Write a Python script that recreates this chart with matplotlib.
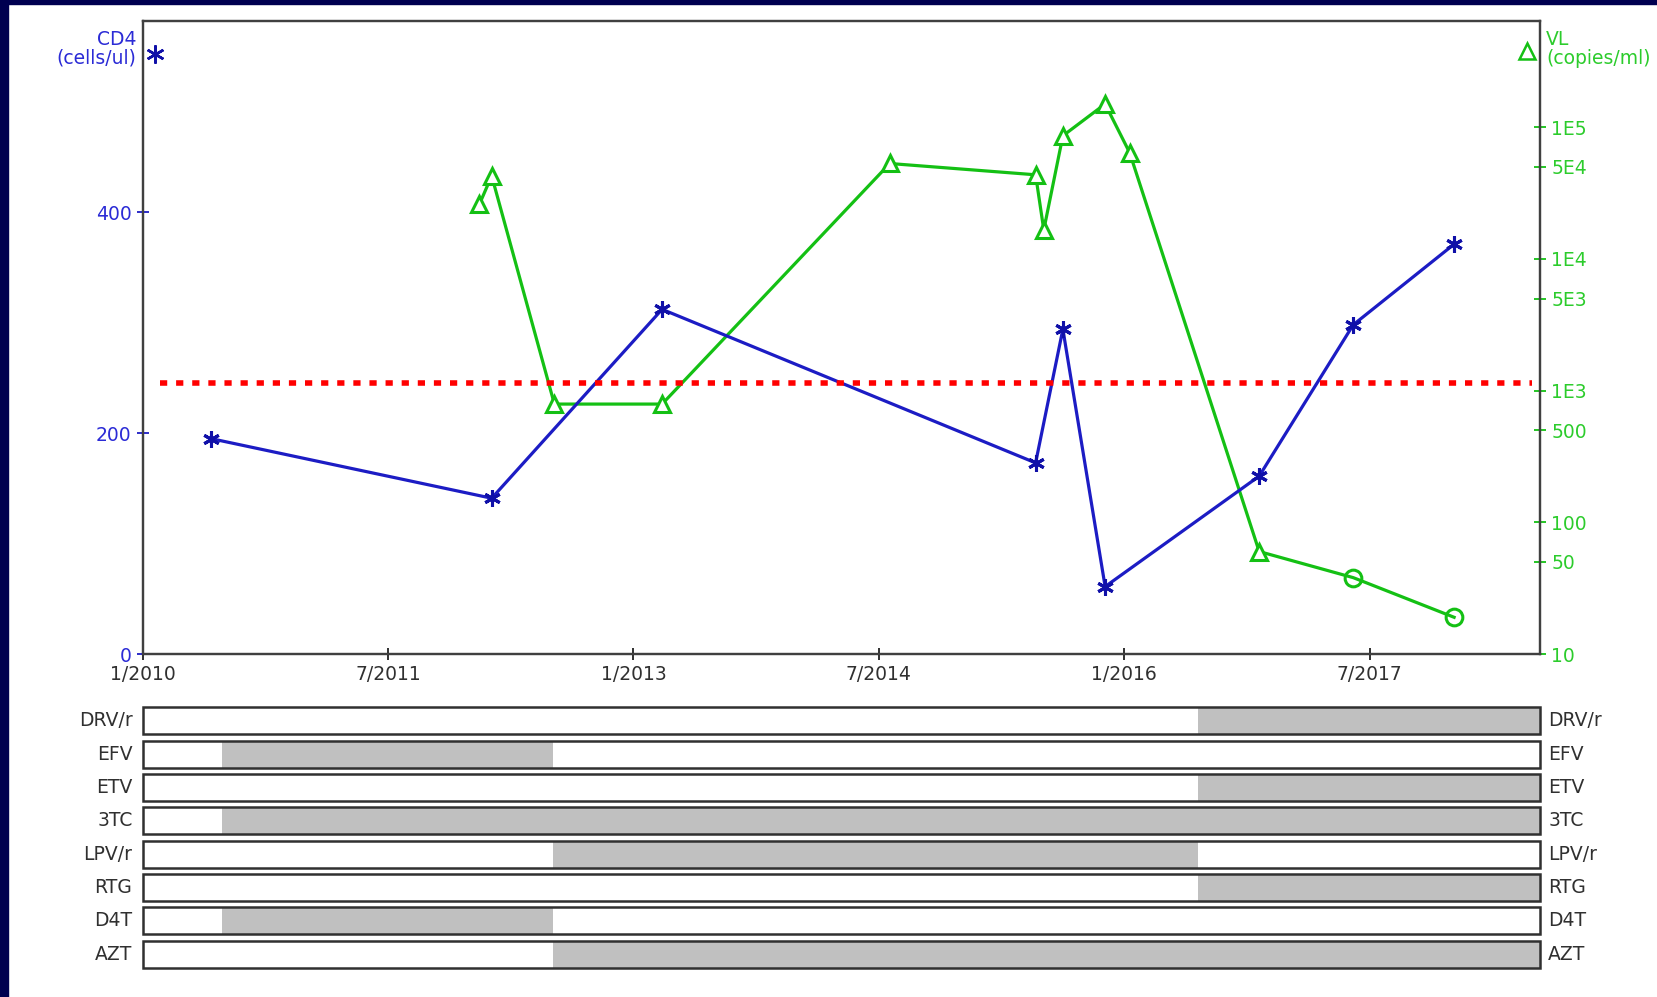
import matplotlib
matplotlib.use('Agg')
import matplotlib.pyplot as plt
from matplotlib.patches import Rectangle

# time axis: months since 1/2010
xtick_pos = [0, 18, 36, 54, 72, 90]
xtick_labels = ['1/2010', '7/2011', '1/2013', '7/2014', '1/2016', '7/2017']
x_max = 102.5

# CD4 counts (cells/ul)
cd4_months = [5.0, 25.6, 38.1, 65.5, 67.5, 70.6, 81.9, 88.8, 96.2]
cd4_values = [195, 141, 312, 173, 294, 61, 161, 298, 371]

# viral load (copies/ml); circles = below detection
vl_months = [24.7, 25.6, 30.2, 38.1, 54.8, 65.5, 66.1, 67.5, 70.6, 72.4, 81.9]
vl_values = [26000, 42700, 790, 790, 53000, 43500, 16600, 86000, 150000, 64000, 60]
vl_low_months = [88.8, 96.2]
vl_low_values = [38, 19]

vl_ticks = [10, 50, 100, 500, 1000, 5000, 10000, 50000, 100000]
vl_tick_labels = ['10', '50', '100', '500', '1E3', '5E3', '1E4', '5E4', '1E5']
cd4_ticks = [0, 200, 400]

threshold_cd4 = 245
threshold_from, threshold_to = 1.3, 101.9

# drug regimens: (start, end) in months
drugs = ['DRV/r', 'EFV', 'ETV', '3TC', 'LPV/r', 'RTG', 'D4T', 'AZT']
drug_periods = [
    [(77.4, x_max)],
    [(5.8, 30.1)],
    [(77.4, x_max)],
    [(5.8, x_max)],
    [(30.1, 77.4)],
    [(77.4, x_max)],
    [(5.8, 30.1)],
    [(30.1, x_max)],
]

blue = '#1c1cc4'
blue_txt = '#2b2bd6'
green = '#14c014'
green_txt = '#2ccc2c'
frame = '#404040'

W, H = 1657, 997
fig = plt.figure(figsize=(W / 100, H / 100), dpi=100)
fig.patch.set_facecolor('white')

# navy border on left and top
fig.patches.append(Rectangle((0, 0), 8 / W, 1, transform=fig.transFigure, color='#000050', zorder=0))
fig.patches.append(Rectangle((0, 1 - 4 / H), 1, 4 / H, transform=fig.transFigure, color='#000050', zorder=0))

left, right = 142.7 / W, 1540 / W
ax = fig.add_axes([left, 1 - 654 / H, right - left, (654 - 21) / H])
ax.set_xlim(0, x_max)
ax.set_ylim(0, 573)
for s in ax.spines.values():
    s.set_color(frame)
    s.set_linewidth(1.6)

ax.set_xticks(xtick_pos)
ax.set_xticklabels(xtick_labels)
ax.tick_params(axis='x', direction='inout', length=8, width=1.3, color='#202020',
               labelsize=13.5, labelcolor='#303030', pad=4)
ax.set_yticks(cd4_ticks)
ax.tick_params(axis='y', direction='inout', length=8, width=1.3, color=blue,
               labelsize=13.5, labelcolor=blue_txt, pad=4)

ax.plot(cd4_months, cd4_values, color=blue, lw=2.3, zorder=3)
ax.plot(cd4_months, cd4_values, ls='none', marker=(6, 2, 0), ms=12, mew=2.2,
        color='#1010a8', zorder=4)

ax2 = ax.twinx()
ax2.set_yscale('log')
ax2.set_ylim(10, 6.4e5)
ax2.set_xlim(0, x_max)
for s in ax2.spines.values():
    s.set_color(frame)
    s.set_linewidth(1.6)
ax2.set_yticks(vl_ticks)
ax2.set_yticklabels(vl_tick_labels)
ax2.yaxis.set_minor_locator(matplotlib.ticker.NullLocator())
ax2.tick_params(axis='y', direction='inout', length=8, width=1.3, color=green,
                labelsize=13.5, labelcolor=green_txt, pad=4)

ax2.plot(vl_months + vl_low_months, vl_values + vl_low_values, color=green, lw=2.3, zorder=3)
ax2.plot(vl_months, vl_values, ls='none', marker='^', ms=11, mew=2.2,
         mfc='white', mec=green, zorder=4)
ax2.plot(vl_low_months, vl_low_values, ls='none', marker='o', ms=12, mew=2.2,
         mfc='none', mec=green, zorder=4)

ax.hlines(threshold_cd4, threshold_from, threshold_to, color='#ff0000', lw=4,
          linestyles=(0, (1.3, 1.6)), zorder=5)
ax.set_zorder(ax2.get_zorder() + 1)
ax.patch.set_visible(False)

# axis titles with marker keys
fig.text(136 / W, 1 - 49 / H, 'CD4\n(cells/ul)', color=blue_txt, fontsize=13.5,
         ha='right', va='center', linespacing=1.0)
fig.lines.append(plt.Line2D([155 / W], [1 - 54 / H], transform=fig.transFigure,
                            marker=(6, 2, 0), ms=13, mew=1.8, color='#1010a8'))
fig.text(1546 / W, 1 - 49 / H, 'VL\n(copies/ml)', color=green_txt, fontsize=13.5,
         ha='left', va='center', linespacing=1.0)
fig.lines.append(plt.Line2D([1527 / W], [1 - 51 / H], transform=fig.transFigure,
                            marker='^', ms=11, mew=1.8, mfc='none', mec=green))

# drug bars
n = len(drugs)
pitch = 33.33
top_px = 707.3 - (pitch - 27) / 2
bx = fig.add_axes([left, 1 - (top_px + n * pitch) / H, right - left, n * pitch / H])
bx.set_xlim(0, x_max)
bx.set_ylim(n - 0.5, -0.5)
bx.axis('off')
bh = 27 / pitch
for i, name in enumerate(drugs):
    for (a, b) in drug_periods[i]:
        bx.barh(i, b - a, left=a, height=bh, color='#c0c0c0', lw=0, zorder=1)
    bx.barh(i, x_max, left=0, height=bh, fill=False, edgecolor='#303030', lw=1.8,
            zorder=2, clip_on=False)
    bx.text(-0.75, i, name, ha='right', va='center', fontsize=13.5, color='#303030')
    bx.text(x_max + 0.6, i, name, ha='left', va='center', fontsize=13.5, color='#303030')

fig.savefig('out.png', dpi=100, facecolor='white')
